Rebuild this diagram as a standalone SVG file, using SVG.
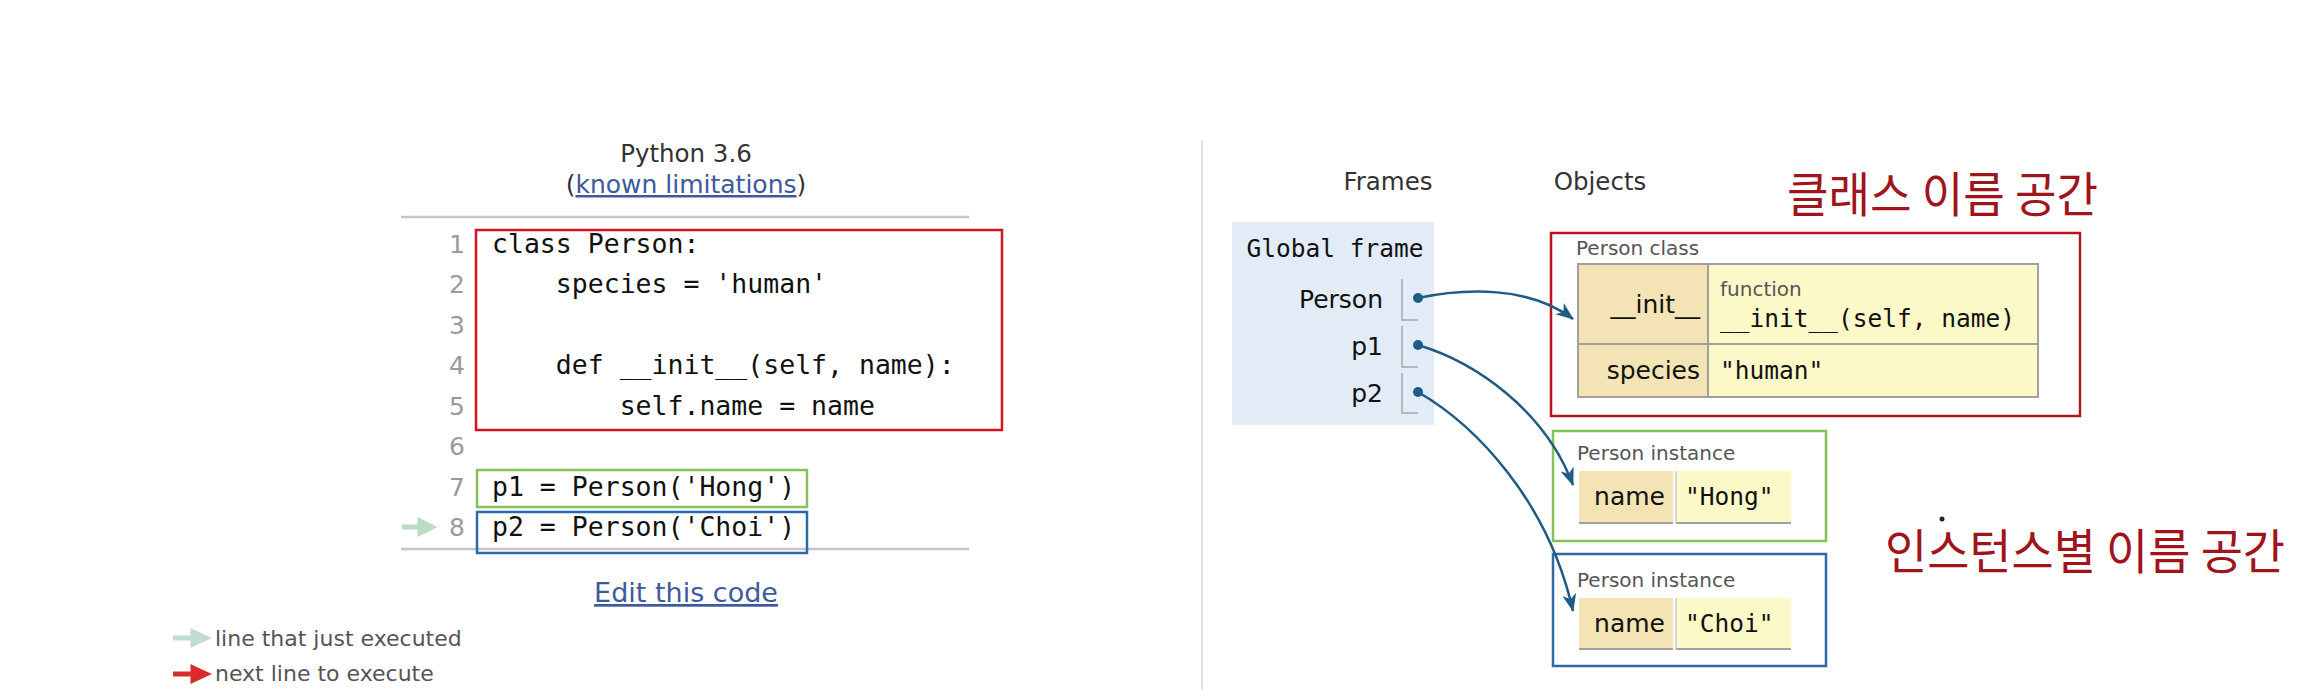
<svg xmlns="http://www.w3.org/2000/svg" width="2313" height="690" viewBox="0 0 2313 690">
<style>
.sans{font-family:"DejaVu Sans","Liberation Sans",sans-serif}
.mono{font-family:"DejaVu Sans Mono","Liberation Mono",monospace}
.kr{font-family:"Noto Sans CJK KR","Noto Sans",sans-serif;fill:#a0141c;font-size:48px}
.code{font-size:26.5px;fill:#111}
.ln{font-size:25px;fill:#9a9a9a;text-anchor:end}
.hdr{font-size:24.5px;fill:#333;text-anchor:middle}
.legend{font-size:22px;fill:#555}
.label{font-size:20px;fill:#555}
.key{font-size:25px;fill:#111;text-anchor:end}
.val{font-size:24.5px;fill:#111}
.rule{stroke:#c4c4c4;stroke-width:2.5}
.conn{fill:none;stroke:#1f5c85;stroke-width:2.5;marker-end:url(#ah)}
.dot{fill:#1f5c85}
.bracket{fill:none;stroke:#a8a8a8;stroke-width:1.5}
</style>
<defs>
<marker id="ah" markerUnits="userSpaceOnUse" markerWidth="20" markerHeight="16" refX="17" refY="7" orient="auto">
<path d="M0,0 L18,7 L0,14 L5,7 z" fill="#1f5c85"/>
</marker>
</defs>
<rect width="2313" height="690" fill="#ffffff"/>

<g id="code-panel">
<text class="sans hdr" x="686" y="162" font-size="25">Python 3.6</text>
<text class="sans" x="686" y="193" font-size="25" text-anchor="middle" fill="#333">(<tspan fill="#3d5a9c" text-decoration="underline">known limitations</tspan>)</text>
<line class="rule" x1="401" y1="217" x2="969" y2="217"/>
<line class="rule" x1="401" y1="549" x2="969" y2="549"/>
<text class="sans ln" x="465" y="253">1</text>
<text class="sans ln" x="465" y="293">2</text>
<text class="sans ln" x="465" y="334">3</text>
<text class="sans ln" x="465" y="374">4</text>
<text class="sans ln" x="465" y="415">5</text>
<text class="sans ln" x="465" y="455">6</text>
<text class="sans ln" x="465" y="496">7</text>
<text class="sans ln" x="465" y="536">8</text>
<text class="mono code" x="492" y="253" xml:space="preserve">class Person:</text>
<text class="mono code" x="492" y="293" xml:space="preserve">    species = 'human'</text>
<text class="mono code" x="492" y="374" xml:space="preserve">    def __init__(self, name):</text>
<text class="mono code" x="492" y="415" xml:space="preserve">        self.name = name</text>
<text class="mono code" x="492" y="496" xml:space="preserve">p1 = Person('Hong')</text>
<text class="mono code" x="492" y="536" xml:space="preserve">p2 = Person('Choi')</text>
<path d="M402,527 H426 M420,521 L432,527 L420,533 z" stroke="#b9dcc4" stroke-width="5" fill="#b9dcc4"/>
<rect x="476" y="230" width="526" height="200" fill="none" stroke="#d4101f" stroke-width="2.5"/>
<rect x="477" y="470" width="330" height="37" fill="none" stroke="#86c25a" stroke-width="2.5"/>
<rect x="477" y="512" width="330" height="41" fill="none" stroke="#2d6aa8" stroke-width="2.5"/>
<text class="sans" x="686" y="602" font-size="27" text-anchor="middle" fill="#3d5a9c" text-decoration="underline">Edit this code</text>
</g>

<g id="legend">
<path d="M173,638 H197 M193,632 L206,638 L193,644 z" stroke="#c2ddd0" stroke-width="5" fill="#c2ddd0"/>
<text class="sans legend" x="215" y="646">line that just executed</text>
<path d="M173,674 H197 M193,668 L206,674 L193,680 z" stroke="#d92b2b" stroke-width="5" fill="#d92b2b"/>
<text class="sans legend" x="215" y="681">next line to execute</text>
</g>

<line x1="1202" y1="140" x2="1202" y2="690" stroke="#e2e2e2" stroke-width="2"/>

<g id="headers">
<text class="sans hdr" x="1388" y="190">Frames</text>
<text class="sans hdr" x="1600" y="190">Objects</text>
</g>

<g id="global-frame">
<rect x="1232" y="222" width="202" height="203" fill="#e2ebf6"/>
<text class="mono" x="1335" y="257" font-size="24.5" text-anchor="middle" fill="#111">Global frame</text>
<text class="sans key" x="1383" y="308">Person</text>
<text class="sans key" x="1383" y="355">p1</text>
<text class="sans key" x="1383" y="402">p2</text>
<path class="bracket" d="M1402,279 V320 H1418"/>
<path class="bracket" d="M1402,326 V367 H1418"/>
<path class="bracket" d="M1402,373 V413 H1418"/>
<circle class="dot" cx="1418" cy="298" r="5"/>
<circle class="dot" cx="1418" cy="345" r="5"/>
<circle class="dot" cx="1418" cy="392" r="5"/>
</g>

<g id="person-class">
<rect x="1551" y="233" width="529" height="183" fill="none" stroke="#b8141f" stroke-width="2.5"/>
<text class="sans label" x="1576" y="255">Person class</text>
<rect x="1578" y="264" width="130" height="133" fill="#f3e3b5"/>
<rect x="1708" y="264" width="330" height="133" fill="#fcf9c8"/>
<rect x="1578" y="264" width="460" height="133" fill="none" stroke="#a0a0a0" stroke-width="2"/>
<line x1="1578" y1="344" x2="2038" y2="344" stroke="#a0a0a0" stroke-width="2"/>
<line x1="1708" y1="264" x2="1708" y2="397" stroke="#a0a0a0" stroke-width="2"/>
<text class="sans key" x="1700" y="313">__init__</text>
<text class="sans label" x="1720" y="296" font-size="19.5">function</text>
<text class="mono val" x="1720" y="327">__init__(self, name)</text>
<text class="sans key" x="1700" y="379">species</text>
<text class="mono val" x="1720" y="379">"human"</text>
</g>

<g id="instance-hong">
<rect x="1553" y="431" width="273" height="110" fill="none" stroke="#86c25a" stroke-width="2.5"/>
<text class="sans label" x="1577" y="460">Person instance</text>
<rect x="1579" y="471" width="94" height="53" fill="#f3e3b5"/>
<rect x="1676" y="471" width="115" height="53" fill="#fcf9c8"/>
<line x1="1579" y1="523" x2="1673" y2="523" stroke="#a0a0a0" stroke-width="2"/>
<line x1="1676" y1="523" x2="1791" y2="523" stroke="#a0a0a0" stroke-width="2"/>
<line x1="1676" y1="471" x2="1676" y2="524" stroke="#c8c8c8" stroke-width="1.5"/>
<text class="sans key" x="1665" y="505">name</text>
<text class="mono val" x="1685" y="505">"Hong"</text>
</g>

<g id="instance-choi">
<rect x="1553" y="554" width="273" height="112" fill="none" stroke="#2d6aa8" stroke-width="2.5"/>
<text class="sans label" x="1577" y="587">Person instance</text>
<rect x="1579" y="598" width="94" height="52" fill="#f3e3b5"/>
<rect x="1676" y="598" width="115" height="52" fill="#fcf9c8"/>
<line x1="1579" y1="649" x2="1673" y2="649" stroke="#a0a0a0" stroke-width="2"/>
<line x1="1676" y1="649" x2="1791" y2="649" stroke="#a0a0a0" stroke-width="2"/>
<line x1="1676" y1="598" x2="1676" y2="650" stroke="#c8c8c8" stroke-width="1.5"/>
<text class="sans key" x="1665" y="632">name</text>
<text class="mono val" x="1685" y="632">"Choi"</text>
</g>

<g id="connectors">
<path class="conn" d="M1418,298 C1465,288 1530,286 1573,319"/>
<path class="conn" d="M1418,345 C1475,362 1545,410 1573,485"/>
<path class="conn" d="M1418,392 C1475,425 1548,500 1573,611"/>
</g>

<g id="annotations">
<text class="kr" x="1787" y="212" textLength="311" lengthAdjust="spacingAndGlyphs">클래스 이름 공간</text>
<text class="kr" x="1885" y="569" textLength="400" lengthAdjust="spacingAndGlyphs">인스턴스별 이름 공간</text>
<circle cx="1942" cy="519" r="2.5" fill="#222"/>
</g>
</svg>
